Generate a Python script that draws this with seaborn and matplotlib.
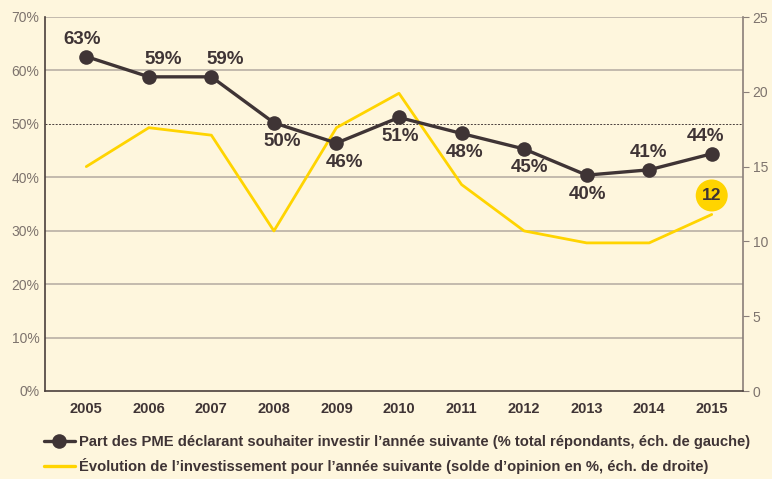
import matplotlib
matplotlib.use("Agg")
import matplotlib.pyplot as plt
import seaborn as sns
import pandas as pd
import numpy as np
from matplotlib.lines import Line2D

years = ["2005", "2006", "2007", "2008", "2009", "2010", "2011", "2012", "2013", "2014", "2015"]
pme_share = [62.6, 58.8, 58.8, 50.2, 46.4, 51.2, 48.2, 45.3, 40.4, 41.4, 44.4]
invest_balance = [15.0, 17.6, 17.1, 10.7, 17.6, 19.9, 13.8, 10.7, 9.9, 9.9, 11.8]
left_ticks = [0, 10, 20, 30, 40, 50, 60, 70]
right_ticks = [0, 5, 10, 15, 20, 25]
legend_labels = [
    "Part des PME déclarant souhaiter investir l\u2019année suivante (% total répondants, éch. de gauche)",
    "Évolution de l\u2019investissement pour l\u2019année suivante (solde d\u2019opinion en %, éch. de droite)",
]
# label placement: +1 above, -1 below; horizontal nudge in px
label_side = [1, 1, 1, -1, -1, -1, -1, -1, -1, 1, 1]
label_dx = [-4, 14, 14, 8, 8, 1, 3, 5, 1, -1, -6]

sns.set_theme(style="white")
plt.rcParams["font.family"] = ["Liberation Sans", "DejaVu Sans"]

BG = "#FEF6DD"
DARK = "#3F3435"
YELLOW = "#FFD400"
GRID = "#BEB5AA"
TICKC = "#7D736D"

df = pd.DataFrame({"x": np.arange(len(years)), "year": years,
                   "pme": pme_share, "inv": invest_balance})

fig = plt.figure(figsize=(7.72, 4.79), dpi=100, facecolor=BG)
ax = fig.add_axes([45 / 772, 1 - 391 / 479, (743 - 45) / 772, (391 - 17) / 479])
ax.set_facecolor(BG)
ax2 = ax.twinx()

# yellow series on right axis
sns.lineplot(data=df, x="x", y="inv", ax=ax2, color=YELLOW, lw=2.0, legend=False)
# dark series on left axis
sns.lineplot(data=df, x="x", y="pme", ax=ax, color=DARK, lw=2.4, marker="o",
             markersize=10.5, markeredgewidth=0, legend=False, zorder=5)
ax.set_zorder(ax2.get_zorder() + 1)
ax.patch.set_visible(False)
ax2.patch.set_visible(True)
ax2.patch.set_facecolor(BG)

ax.set_xlim(-0.66, 10.5)
ax.set_ylim(0, 70)
ax2.set_ylim(0, 25)

# left axis
ax.set_yticks(left_ticks)
ax.set_yticklabels([f"{t}%" for t in left_ticks], color=TICKC, fontsize=10)
ax.tick_params(axis="y", length=0, pad=4)
ax.yaxis.grid(False)
for t in left_ticks[1:]:
    if t == 50:
        ax2.axhline(t * 25 / 70, color="#4A403D", lw=0.7, ls=(0, (2, 1.5)), zorder=0)
    else:
        ax2.axhline(t * 25 / 70, color=GRID, lw=1.3, zorder=0)

# right axis
ax2.set_yticks(right_ticks)
ax2.set_yticklabels([str(t) for t in right_ticks], color=TICKC, fontsize=10)
ax2.tick_params(axis="y", length=4, width=0.8, color="#8A7F79", pad=3, direction="out")
ax2.set_ylabel("")

# x axis
ax.set_xticks(np.arange(len(years)))
ax.set_xticklabels(years, fontsize=10.5, fontweight="bold", color=DARK)
ax.set_xticks(np.arange(len(years) - 1) + 0.5, minor=True)
ax.tick_params(axis="x", which="major", length=0, pad=8)
ax.tick_params(axis="x", which="minor", length=4, width=0.9, color=DARK, direction="out")
ax.set_xlabel("")
ax.set_ylabel("")
ax2.tick_params(axis="x", length=0)

for a in (ax, ax2):
    a.spines["top"].set_visible(False)
    for s in ("left", "right", "bottom"):
        a.spines[s].set_visible(False)
ax.spines["left"].set_visible(True)
ax.spines["left"].set_color("#4A3F3C")
ax.spines["left"].set_linewidth(1.2)
ax.spines["bottom"].set_visible(True)
ax.spines["bottom"].set_color("#4A3F3C")
ax.spines["bottom"].set_linewidth(1.2)
ax2.spines["right"].set_visible(True)
ax2.spines["right"].set_color("#8A7F79")
ax2.spines["right"].set_linewidth(1.2)

# data labels
for i, v in enumerate(pme_share):
    dy = 17 if label_side[i] > 0 else -19
    ax.annotate(f"{round(v)}%", (i, v), xytext=(label_dx[i] * 0.72, dy * 0.72),
                textcoords="offset points", ha="center", va="center",
                fontsize=13.5, fontweight="bold", color=DARK, zorder=6)

# last yellow value bubble
last = len(years) - 1
ax2.annotate(f"{round(invest_balance[last])}", (last, invest_balance[last]),
             xytext=(0, 19 * 0.72), textcoords="offset points", ha="center", va="center",
             fontsize=12.5, fontweight="bold", color=DARK,
             bbox=dict(boxstyle="circle,pad=0.36", fc=YELLOW, ec="none"))

# legend
handles = [Line2D([], [], color=DARK, lw=2.4, marker="o", markersize=10.5, markeredgewidth=0),
           Line2D([], [], color=YELLOW, lw=2.4)]
leg = fig.legend(handles, legend_labels, loc="upper left",
                 bbox_to_anchor=(44 / 772, 1 - 435 / 479), frameon=False,
                 handlelength=2.1, handletextpad=0.3, labelspacing=0.6,
                 prop={"weight": "bold", "size": 10.6}, borderaxespad=0, borderpad=0)
for t in leg.get_texts():
    t.set_color(DARK)

fig.savefig("out.png", dpi=100, facecolor=BG)
